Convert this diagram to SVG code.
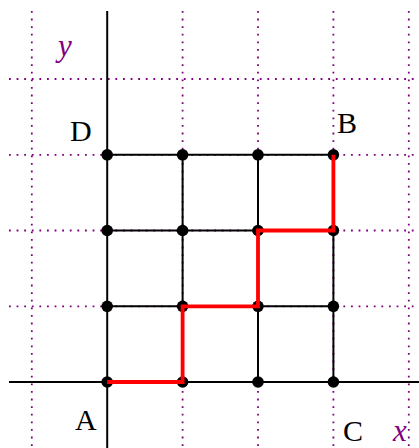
<svg xmlns="http://www.w3.org/2000/svg" width="419" height="448" viewBox="0 0 419 448">
<style>
.dot-grid{stroke:#800080;stroke-width:1.8;stroke-dasharray:1.8 5.8;fill:none}
.axis{stroke:#000;stroke-width:2;fill:none}
.grid{stroke:#000;stroke-width:2;fill:none}
.path{stroke:#ff0000;stroke-width:3.8;fill:none;stroke-linejoin:miter}
.pt{fill:#000}
.lbl{font-family:"Liberation Serif","Times New Roman",serif;font-size:30px;fill:#000}
.ax{font-family:"Liberation Serif","Times New Roman",serif;font-size:31px;font-style:italic;fill:#800080}
</style>
<rect width="419" height="448" fill="#fff"/>
<g id="dotted-grid">
<line class="dot-grid" x1="31.8" y1="11" x2="31.8" y2="448"/>
<line class="dot-grid" x1="182.6" y1="11" x2="182.6" y2="448"/>
<line class="dot-grid" x1="258" y1="11" x2="258" y2="448"/>
<line class="dot-grid" x1="333.4" y1="11" x2="333.4" y2="448"/>
<line class="dot-grid" x1="408.8" y1="11" x2="408.8" y2="448"/>
<line class="dot-grid" x1="9" y1="79" x2="419" y2="79"/>
<line class="dot-grid" x1="9" y1="154.8" x2="419" y2="154.8"/>
<line class="dot-grid" x1="9" y1="230.5" x2="419" y2="230.5"/>
<line class="dot-grid" x1="9" y1="306.3" x2="419" y2="306.3"/>
</g>
<g id="axes">
<line class="axis" x1="9" y1="382" x2="419" y2="382"/>
<line class="axis" x1="107.2" y1="11" x2="107.2" y2="448"/>
</g>
<g id="connectors">
<line class="grid" x1="107.2" y1="154.8" x2="333.4" y2="154.8"/>
<line class="grid" x1="107.2" y1="230.5" x2="333.4" y2="230.5"/>
<line class="grid" x1="107.2" y1="306.3" x2="333.4" y2="306.3"/>
<line class="grid" x1="182.6" y1="154.8" x2="182.6" y2="382"/>
<line class="grid" x1="258" y1="154.8" x2="258" y2="382"/>
<line class="grid" x1="333.4" y1="154.8" x2="333.4" y2="382"/>
</g>
<g id="points">
<circle class="pt" cx="107.2" cy="154.8" r="5.8"/>
<circle class="pt" cx="182.6" cy="154.8" r="5.8"/>
<circle class="pt" cx="258" cy="154.8" r="5.8"/>
<circle class="pt" cx="333.4" cy="154.8" r="5.8"/>
<circle class="pt" cx="107.2" cy="230.5" r="5.8"/>
<circle class="pt" cx="182.6" cy="230.5" r="5.8"/>
<circle class="pt" cx="258" cy="230.5" r="5.8"/>
<circle class="pt" cx="333.4" cy="230.5" r="5.8"/>
<circle class="pt" cx="107.2" cy="306.3" r="5.8"/>
<circle class="pt" cx="182.6" cy="306.3" r="5.8"/>
<circle class="pt" cx="258" cy="306.3" r="5.8"/>
<circle class="pt" cx="333.4" cy="306.3" r="5.8"/>
<circle class="pt" cx="107.2" cy="382" r="5.8"/>
<circle class="pt" cx="182.6" cy="382" r="5.8"/>
<circle class="pt" cx="258" cy="382" r="5.8"/>
<circle class="pt" cx="333.4" cy="382" r="5.8"/>
</g>
<g id="red-path">
<polyline class="path" points="107.2,382 182.6,382 182.6,306.3 258,306.3 258,230.5 333.4,230.5 333.4,154.8"/>
</g>
<g id="labels">
<text class="ax" x="58" y="56">y</text>
<text class="ax" x="393" y="441">x</text>
<text class="lbl" x="70" y="140.5">D</text>
<text class="lbl" x="337" y="132.5">B</text>
<text class="lbl" x="75" y="430">A</text>
<text class="lbl" x="343" y="441">C</text>
</g>
</svg>
